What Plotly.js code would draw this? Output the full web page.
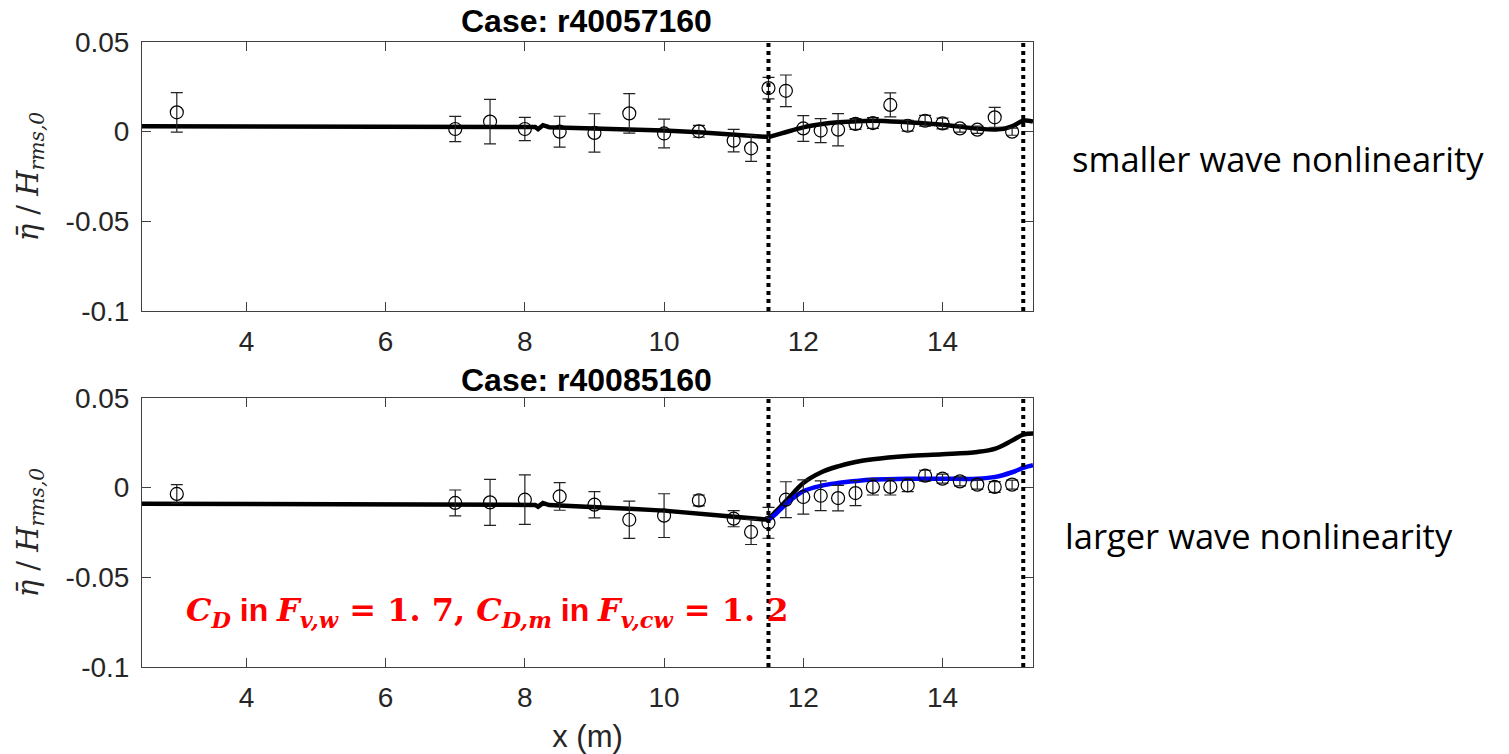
<!DOCTYPE html>
<html>
<head>
<meta charset="utf-8">
<script src="https://cdn.plot.ly/plotly-3.0.1.min.js"></script>
<style>html,body{margin:0;padding:0;background:#fff;}#chart{width:1509px;height:754px;}</style>
</head>
<body>
<div id="chart"></div>
<script>
// ---------- Data ----------
// Case r40057160 (top) measurements
const obsX1 = [3.0, 7.0, 7.5, 8.0, 8.5, 9.0, 9.5, 10.0, 10.5, 11.0, 11.25, 11.5, 11.75, 12.0, 12.25, 12.5, 12.75, 13.0, 13.25, 13.5, 13.75, 14.0, 14.25, 14.5, 14.75, 15.0];
const obsY1 = [0.0108, 0.0015, 0.0056, 0.0015, 0.0, -0.0007, 0.0102, -0.001, 0.0002, -0.005, -0.0093, 0.0243, 0.0228, 0.0018, 0.0006, 0.0011, 0.0043, 0.0048, 0.0149, 0.0033, 0.0061, 0.0046, 0.0018, 0.0011, 0.008, 0.0];
const obsErr1 = [0.011, 0.007, 0.0124, 0.0065, 0.0086, 0.0107, 0.011, 0.008, 0.0033, 0.0063, 0.0073, 0.006, 0.0088, 0.0072, 0.0067, 0.009, 0.003, 0.003, 0.0067, 0.003, 0.003, 0.003, 0.002, 0.002, 0.0056, 0.002];
// Case r40057160 model
const modX1 = [2.5, 6.1, 6.18, 6.22, 7.0, 8.0, 8.15, 8.19, 8.26, 8.35, 9.0, 9.5, 10.0, 10.5, 11.0, 11.5, 11.7, 12.0, 12.25, 12.5, 13.0, 13.5, 14.0, 14.5, 14.8, 15.0, 15.16, 15.3];
const modY1 = [0.003, 0.003, 0.0026, 0.003, 0.003, 0.0028, 0.0026, 0.0014, 0.0036, 0.0025, 0.0019, 0.0013, 0.0006, -0.0003, -0.0017, -0.003, -0.0008, 0.0024, 0.0041, 0.0052, 0.0061, 0.0052, 0.0039, 0.0017, 0.0013, 0.003, 0.0061, 0.0056];

// Case r40085160 (bottom) measurements
const obsX2 = [3.0, 7.0, 7.5, 8.0, 8.5, 9.0, 9.5, 10.0, 10.5, 11.0, 11.25, 11.5, 11.75, 12.0, 12.25, 12.5, 12.75, 13.0, 13.25, 13.5, 13.75, 14.0, 14.25, 14.5, 14.75, 15.0];
const obsY2 = [-0.0035, -0.0085, -0.0082, -0.0067, -0.0049, -0.0095, -0.0179, -0.0156, -0.0071, -0.0173, -0.0247, -0.0196, -0.0067, -0.0052, -0.0045, -0.0058, -0.003, 0.0004, 0.0004, 0.0013, 0.0067, 0.005, 0.0035, 0.0017, 0.0004, 0.0017];
const obsErr2 = [0.0052, 0.0072, 0.0128, 0.0138, 0.0077, 0.0073, 0.0104, 0.0122, 0.003, 0.0045, 0.007, 0.0086, 0.01, 0.0095, 0.0083, 0.0071, 0.007, 0.0045, 0.0045, 0.0035, 0.003, 0.0025, 0.0025, 0.0025, 0.003, 0.0025];
// Case r40085160 models
const modX2 = [2.5, 6.1, 6.18, 6.22, 7.0, 7.8, 8.15, 8.19, 8.26, 8.35, 8.5, 9.0, 9.5, 10.0, 10.5, 11.0, 11.5, 11.6, 11.77, 12.0, 12.26, 12.5, 12.75, 13.0, 13.5, 14.0, 14.5, 14.76, 15.0, 15.16, 15.3];
const modY2 = [-0.009, -0.009, -0.0094, -0.009, -0.0091, -0.0092, -0.0096, -0.0106, -0.0086, -0.0097, -0.0099, -0.011, -0.0118, -0.0128, -0.0143, -0.0162, -0.0179, -0.0135, -0.0067, 0.0026, 0.0086, 0.0119, 0.0143, 0.0158, 0.0176, 0.0186, 0.0199, 0.0218, 0.0263, 0.0296, 0.0302];
const modBlueX2 = [11.5, 11.6, 11.77, 12.0, 12.26, 12.5, 12.75, 13.0, 13.5, 14.0, 14.5, 14.76, 15.0, 15.16, 15.3];
const modBlueY2 = [-0.0179, -0.0148, -0.0085, -0.002, 0.0011, 0.0026, 0.0037, 0.0045, 0.005, 0.005, 0.005, 0.006, 0.0086, 0.011, 0.0125];

// Vertical dotted reference lines
const refLinesX = [11.5, 15.16];

// Ticks and labels
const xTickVals = [4, 6, 8, 10, 12, 14];
const yTickVals = [0.05, 0, -0.05, -0.1];
const yTickText = ['0.05', '0', '-0.05', '-0.1'];
const titles = ['Case: r40057160', 'Case: r40085160'];
const sideNotes = ['smaller wave nonlinearity', 'larger wave nonlinearity'];

// ---------- Plot ----------
const W = 1509, H = 754;
const mL = 142, mR = W - 1033, mT = 42, mB = H - 667;
const plotW = W - mL - mR, plotH = H - mT - mB;
const px = v => (v - mL) / plotW;
const py = v => (H - mB - v) / plotH;

const axisColor = '#404040';
const tickFont = {family: 'Liberation Sans, Arial, sans-serif', size: 28, color: '#262626'};

function obsTrace(x, y, e, xa, ya) {
  return {
    x: x, y: y, xaxis: xa, yaxis: ya, type: 'scatter', mode: 'markers',
    marker: {symbol: 'circle-open', size: 13, color: '#000', line: {width: 1.2, color: '#000'}},
    error_y: {type: 'data', array: e, visible: true, color: '#222', thickness: 1.2, width: 6},
    showlegend: false, hoverinfo: 'skip'
  };
}
// Model curves: straight part up to the breakpoint, smooth curve after it
function lineTraces(x, y, xa, ya, color, brk) {
  const i = x.indexOf(brk);
  const out = [];
  if (i > 0) {
    out.push({x: x.slice(0, i + 1), y: y.slice(0, i + 1), xaxis: xa, yaxis: ya, type: 'scatter', mode: 'lines',
      line: {color: color, width: 4.5}, showlegend: false, hoverinfo: 'skip'});
  }
  const s = Math.max(i, 0);
  out.push({x: x.slice(s), y: y.slice(s), xaxis: xa, yaxis: ya, type: 'scatter', mode: 'lines',
    line: {color: color, width: 4.5, shape: 'spline', smoothing: 1}, showlegend: false, hoverinfo: 'skip'});
  return out;
}

const traces = [].concat(
  lineTraces(modX1, modY1, 'x', 'y', '#000', 11.5),
  [obsTrace(obsX1, obsY1, obsErr1, 'x', 'y')],
  lineTraces(modX2, modY2, 'x2', 'y2', '#000', 11.5),
  lineTraces(modBlueX2, modBlueY2, 'x2', 'y2', '#0000ff', 11.5),
  [obsTrace(obsX2, obsY2, obsErr2, 'x2', 'y2')]
);

const yTitle = '<i>η̄</i> / <i>H</i><sub><i>rms,0</i></sub>';

function xAxis(domainAnchor) {
  return {
    range: [2.5, 15.3], tickvals: xTickVals, ticks: 'inside', ticklen: 9, tickwidth: 1,
    tickcolor: axisColor, showline: true, linecolor: axisColor, linewidth: 1, mirror: 'allticks',
    showgrid: false, zeroline: false, tickfont: tickFont, anchor: domainAnchor, fixedrange: true,
    ticklabelstandoff: 5
  };
}
function yAxis(domain, anchor) {
  return {
    domain: domain, range: [-0.1, 0.05], tickvals: yTickVals, ticktext: yTickText,
    ticks: 'inside', ticklen: 9, tickwidth: 1, tickcolor: axisColor, showline: true,
    linecolor: axisColor, linewidth: 1, mirror: 'allticks', showgrid: false, zeroline: false,
    tickfont: tickFont, anchor: anchor, fixedrange: true, ticklabelstandoff: 6,
    title: {text: yTitle, font: {family: 'DejaVu Serif, serif', size: 29, color: '#262626'}, standoff: 18}
  };
}

const xa1 = xAxis('y');
const xa2 = xAxis('y2');
xa2.title = {text: 'x (m)', font: {family: 'Liberation Sans, Arial, sans-serif', size: 31, color: '#262626'}, standoff: 17};

const shapes = [];
refLinesX.forEach(v => {
  ['x', 'x2'].forEach((xr, i) => {
    shapes.push({type: 'line', xref: xr, yref: (i === 0 ? 'y domain' : 'y2 domain'),
      x0: v, x1: v, y0: 0, y1: 1, layer: 'above',
      line: {color: '#000', width: 4, dash: 'dot'}});
  });
});

const titleFont = {family: 'Liberation Sans, Arial, sans-serif', size: 32, color: '#000'};
const noteFont = {family: 'Open Sans, sans-serif', size: 34.5, color: '#000'};
const redText = '<b><i>C</i><sub><i>D</i></sub><span style="font-family:Liberation Sans;font-style:normal"> in </span><i>F</i><sub><i>v,w</i></sub> = 1. 7, <i>C</i><sub><i>D,m</i></sub><span style="font-family:Liberation Sans;font-style:normal"> in </span><i>F</i><sub><i>v,cw</i></sub> = 1. 2</b>';

const annotations = [
  {text: '<b>' + titles[0] + '</b>', xref: 'paper', yref: 'paper', x: px(586), y: py(21), xanchor: 'center', yanchor: 'middle', showarrow: false, font: titleFont},
  {text: '<b>' + titles[1] + '</b>', xref: 'paper', yref: 'paper', x: px(586), y: py(380), xanchor: 'center', yanchor: 'middle', showarrow: false, font: titleFont},
  {text: sideNotes[0], xref: 'paper', yref: 'paper', x: px(1070), y: py(158), xanchor: 'left', yanchor: 'middle', showarrow: false, font: noteFont},
  {text: sideNotes[1], xref: 'paper', yref: 'paper', x: px(1063), y: py(535), xanchor: 'left', yanchor: 'middle', showarrow: false, font: noteFont},
  {text: redText, xref: 'paper', yref: 'paper', x: px(184), y: py(612), xanchor: 'left', yanchor: 'middle', showarrow: false,
   font: {family: 'DejaVu Serif, serif', size: 32, color: '#ff0000'}}
];

const layout = {
  width: W, height: H,
  margin: {l: mL, r: mR, t: mT, b: mB, pad: 0},
  paper_bgcolor: '#fff', plot_bgcolor: '#fff',
  showlegend: false,
  xaxis: xa1, yaxis: yAxis([py(311), 1], 'x'),
  xaxis2: xa2, yaxis2: yAxis([0, py(398)], 'x2'),
  shapes: shapes,
  annotations: annotations
};

Plotly.newPlot('chart', traces, layout, {displayModeBar: false, staticPlot: true});
</script>
</body>
</html>
